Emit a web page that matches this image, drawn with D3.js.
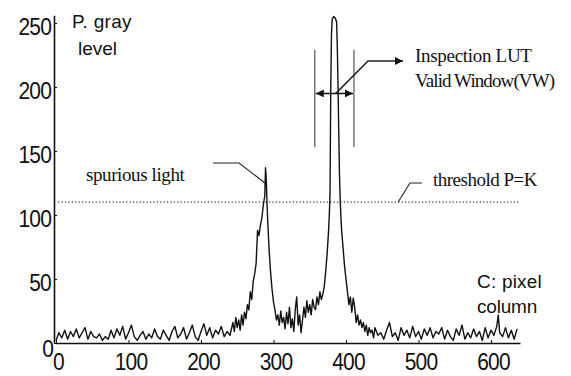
<!DOCTYPE html>
<html>
<head>
<meta charset="utf-8">
<script src="https://cdn.jsdelivr.net/npm/d3@7"></script>
<style>
  body { margin: 0; background: #fff; }
  svg { display: block; }
</style>
</head>
<body>
<div id="wrapper"></div>
<script>
// gray level profile along one image row: [pixel column, gray level]
const profile = [
  [0,2],[4,8],[8,4],[12,10],[16,3],[20,9],[24,5],[28,11],[32,4],[36,8],[40,12],[44,3],
  [48,9],[52,5],[56,4],[60,7],[64,2],[68,5],[72,3],[76,10],[80,4],[84,11],[88,6],[92,13],
  [96,3],[100,8],[104,14],[108,5],[112,2],[116,6],[120,9],[124,3],[128,7],[132,4],[136,11],
  [140,5],[144,3],[148,10],[152,6],[156,2],[160,9],[164,13],[168,4],[172,7],[176,12],[180,3],
  [184,8],[188,14],[192,5],[196,2],[200,9],[204,15],[208,6],[212,12],[216,4],[220,10],[224,7],
  [228,13],[232,5],[236,9],[240,6],[244,16],[246,9],[248,20],[250,12],[252,18],[254,10],
  [256,22],[258,14],[260,24],[262,19],[264,30],[266,26],[268,40],[270,34],[272,48],[274,54],
  [276,62],[278,88],[280,84],[282,92],[284,98],[286,108],[288,115],[289,137],[290,128],
  [291,110],[292,96],[294,72],[296,55],[298,42],[300,32],[302,26],[304,18],[306,22],[308,14],
  [310,25],[312,16],[314,20],[316,11],[318,24],[320,15],[322,28],[324,12],[326,19],[328,9],
  [330,26],[332,36],[334,14],[336,22],[338,8],[340,18],[342,28],[344,20],[346,33],[348,24],
  [350,30],[352,22],[354,34],[356,28],[358,26],[360,36],[362,30],[364,40],[366,34],[368,38],
  [370,44],[372,56],[374,70],[376,88],[377,100],[378,118],[379,200],[380,242],[381,253],
  [383,255],[385,254],[387,251],[388,232],[389,200],[390,165],[391,132],[392,112],[393,98],
  [394,88],[396,74],[398,60],[400,50],[402,40],[404,30],[406,36],[408,24],[410,35],[412,28],
  [414,16],[416,22],[418,14],[420,18],[422,12],[424,16],[426,9],[428,14],[430,6],[432,12],
  [434,8],[436,10],[438,4],[440,12],[444,6],[448,8],[452,3],[456,10],[460,16],[464,5],[468,8],
  [472,2],[476,12],[480,6],[484,10],[488,4],[492,13],[496,5],[500,9],[504,3],[508,11],[512,6],
  [516,12],[520,4],[524,9],[528,7],[532,12],[536,3],[540,10],[544,5],[548,2],[552,11],[556,6],
  [560,14],[564,3],[568,8],[572,4],[576,11],[580,5],[584,9],[588,2],[592,12],[596,4],[600,10],
  [604,6],[608,13],[610,22],[612,8],[616,5],[620,12],[624,4],[628,10],[632,3],[636,11]
];

const xTicks = [0, 100, 200, 300, 400, 500, 600];
const yTicks = [0, 50, 100, 150, 200, 250];

const threshold = 110;          // P = K
const windowCols = [357, 411];  // inspection LUT valid window edges
const windowLevels = [153, 229];
const windowArrowLevel = 195;

const width = 571, height = 376;

const svg = d3.select("#wrapper").append("svg")
    .attr("width", width)
    .attr("height", height);

const x = d3.scaleLinear().domain([0, 640]).range([56, 520]);
const y = d3.scaleLinear().domain([0, 256]).range([343, 15.3]);

const sans = "'Liberation Sans', Arial, sans-serif";
const serif = "'Liberation Serif', 'Times New Roman', serif";

// arrow heads
const defs = svg.append("defs");
defs.append("marker")
    .attr("id", "head")
    .attr("viewBox", "0 0 10 10")
    .attr("refX", 10).attr("refY", 5)
    .attr("markerWidth", 9).attr("markerHeight", 8)
    .attr("markerUnits", "userSpaceOnUse")
    .attr("orient", "auto-start-reverse")
    .append("path")
    .attr("d", "M0,0L10,5L0,10Z")
    .attr("fill", "#111");

// threshold dotted line
svg.append("line")
    .attr("x1", x(3)).attr("x2", x(640))
    .attr("y1", y(threshold)).attr("y2", y(threshold))
    .attr("stroke", "#333")
    .attr("stroke-width", 1.2)
    .attr("stroke-dasharray", "1.2,2.2");

// profile line
const line = d3.line()
    .x(d => x(d[0]))
    .y(d => y(d[1]));

svg.append("path")
    .datum(profile)
    .attr("d", line)
    .attr("fill", "none")
    .attr("stroke", "#111")
    .attr("stroke-width", 1.4)
    .attr("stroke-linejoin", "round");

// axes
const yAxis = svg.append("g")
    .attr("transform", `translate(${x(0) - 2},0)`)
    .call(d3.axisLeft(y).tickValues(yTicks).tickSizeInner(-3).tickSizeOuter(0).tickPadding(3));

const xAxis = svg.append("g")
    .attr("transform", `translate(0,${y(0)})`)
    .call(d3.axisBottom(x).tickValues(xTicks).tickSizeInner(-3).tickSizeOuter(0));

[yAxis, xAxis].forEach(g => {
    g.select(".domain").attr("stroke", "#111").attr("stroke-width", 1.6);
    g.selectAll(".tick line").attr("stroke", "#111").attr("stroke-width", 1);
    g.selectAll("text")
        .attr("fill", "#111")
        .style("font-family", sans)
        .style("font-size", "21px")
        .style("letter-spacing", "-0.8px");
});

yAxis.selectAll("text")
    .attr("x", null).attr("y", 0).attr("dy", 0)
    .attr("transform", d => d === 0 ? "translate(-1,13) scale(1,1.15)" : "translate(-3,12) scale(1,1.15)");

xAxis.selectAll("text")
    .attr("y", 0).attr("dy", 0)
    .attr("transform", "translate(2,27) scale(1,1.12)");

// text labels, squeezed with letter spacing like the scanned original
function label(txt, px, py, font, size, spacing) {
    svg.append("text")
        .attr("x", px).attr("y", py)
        .style("font-family", font)
        .style("font-size", size + "px")
        .style("letter-spacing", spacing + "px")
        .attr("fill", "#111")
        .text(txt);
}

label("P. gray", 72, 28, sans, 19, 0.3);
label("level", 78, 55, sans, 19, 0);
label("C: pixel", 477, 288, sans, 19, 0.2);
label("column", 477, 313, sans, 19, -0.2);

label("spurious light", 86, 181, serif, 19, -0.4);
label("threshold P=K", 433, 186, serif, 19, -0.5);
label("Inspection LUT", 415, 62, serif, 19, -0.3);
label("Valid Window(VW)", 415, 87, serif, 19, -0.9);

// annotation leaders
const lead = d3.line();
const stroke = g => g.attr("fill", "none").attr("stroke", "#222").attr("stroke-width", 1.1);

svg.append("path")
    .attr("d", lead([[213, 163], [239, 163], [265, 183]]))
    .call(stroke);

svg.append("path")
    .attr("d", lead([[398, y(threshold)], [410, 183], [422, 183]]))
    .call(stroke);

// valid window edges
windowCols.forEach(c => {
    svg.append("line")
        .attr("x1", x(c)).attr("x2", x(c))
        .attr("y1", y(windowLevels[0])).attr("y2", y(windowLevels[1]))
        .attr("stroke", "#333").attr("stroke-width", 1);
});

svg.append("line")
    .attr("x1", x(windowCols[0]) + 1).attr("x2", x(windowCols[1]) - 1)
    .attr("y1", y(windowArrowLevel)).attr("y2", y(windowArrowLevel))
    .attr("stroke", "#111").attr("stroke-width", 1.5)
    .attr("marker-start", "url(#head)")
    .attr("marker-end", "url(#head)");

svg.append("path")
    .attr("d", lead([[x(386), y(windowArrowLevel)], [368, 61], [403, 61]]))
    .call(stroke)
    .attr("stroke-width", 1.5)
    .attr("marker-end", "url(#head)");
</script>
</body>
</html>
